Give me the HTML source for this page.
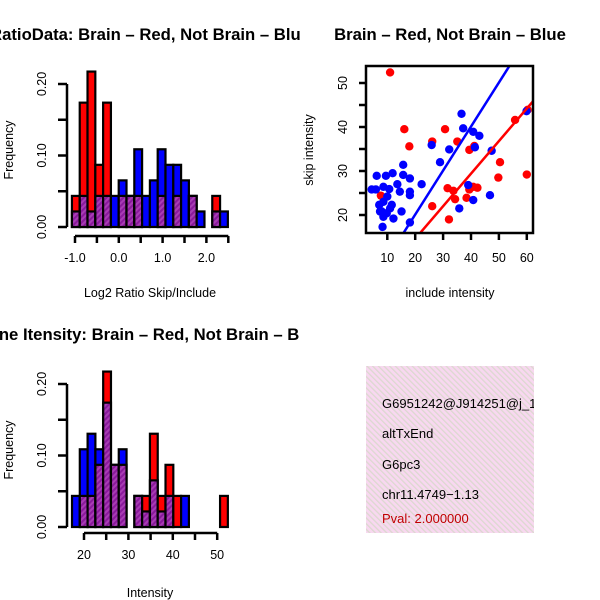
<!DOCTYPE html>
<html><head><meta charset="utf-8"><style>
html,body{margin:0;padding:0;background:#fff}
svg{display:block;font-family:"Liberation Sans",sans-serif}
</style></head><body>
<svg id="c" width="600" height="600" viewBox="0 0 600 600" xmlns="http://www.w3.org/2000/svg">
<defs>
<pattern id="hatch" patternUnits="userSpaceOnUse" width="4" height="4" patternTransform="rotate(45)">
<rect width="4" height="4" fill="#8a1a9c"/><rect width="2" height="4" fill="#a83cb4"/>
</pattern>
<pattern id="pink" patternUnits="userSpaceOnUse" width="4" height="4" patternTransform="rotate(-45)">
<rect width="4" height="4" fill="#f8d8f0"/><rect width="1.3" height="4" fill="#dcd8d0"/>
</pattern>
<clipPath id="cTL"><rect x="0" y="0" width="300" height="300"/></clipPath>
<clipPath id="cBL"><rect x="0" y="300" width="300" height="300"/></clipPath>
<clipPath id="cSC"><rect x="366" y="66" width="167" height="167"/></clipPath>
<clipPath id="cBox"><rect x="366" y="366" width="168" height="167"/></clipPath>
</defs>
<g id="tl" clip-path="url(#cTL)"></g>
<g id="bl" clip-path="url(#cBL)"></g>
<g id="sc"></g>
<g id="info">
<rect x="366" y="366" width="168" height="167" fill="url(#pink)"/>
<g clip-path="url(#cBox)" font-size="13">
<text x="382" y="408">G6951242@J914251@j_1</text>
<text x="382" y="438">altTxEnd</text>
<text x="382" y="469">G6pc3</text>
<text x="382" y="499">chr11.4749−1.13</text>
<text x="382" y="523" fill="#c00000">Pval: 2.000000</text>
</g></g>
</svg>
<script>
// ---- Ratio histogram data (frequency = count/46) ----
const ratioStart = -1.07;
const ratioBinWidth = 0.178;
const ratioRedCounts = [2,8,10,4,8,0,2,2,2,0,0,2,0,2,0,2,0,0,2,0];
const ratioBlueCounts = [1,2,1,2,2,2,3,2,5,2,3,5,4,4,3,2,1,0,1,1];
const ratioXTicks = [-1,-0.5,0,0.5,1,1.5,2,2.5];
const ratioXLabels = ["-1.0","","0.0","","1.0","","2.0",""];
// ---- Intensity histogram data ----
const intStart = 17.3;
const intBinWidth = 1.755;
const intRedCounts = [0,2,2,4,10,4,4,0,2,2,6,2,4,2,0,0,0,0,0,2];
const intBlueCounts = [2,5,6,5,8,4,5,0,2,1,3,1,2,0,2,0,0,0,0,0];
const intXTicks = [20,25,30,35,40,45,50];
const intXLabels = ["20","","30","","40","","50"];
const histTotal = 46;
const freqTicks = [0,0.05,0.1,0.15,0.2];
const freqLabels = ["0.00","","0.10","","0.20"];
// ---- Scatter data ----
const redInclude = [11,16.1,17.9,7.7,26.1,26.1,30.7,35.1,32.1,31.6,33.7,34.3,38.4,39.4,40.8,42.3,39.4,41.2,50.4,49.8,55.8,60,60.3];
const redSkip = [52.4,39.5,35.6,24.4,22,36.7,39.5,36.7,19,26.1,25.5,23.6,23.9,25.8,26.4,26.2,34.8,35.7,32,28.5,41.6,29.2,43.9];
const blueInclude = [4.4,6.2,5.9,8.6,10.7,9.5,11.9,13.6,14.5,15.7,15.7,18.1,18.1,18.1,7.1,8.6,10,8,8.6,9.8,11.6,12.2,15.1,8.3,18.1,22.3,25.9,28.9,32.2,36.6,37.2,40.8,43,41.4,39,35.8,40.8,46.8,47.4,59.9,7.4,11];
const blueSkip = [25.8,28.9,25.8,26.4,25.9,28.9,29.5,27,25.3,31.4,29.1,28.3,25.3,24.5,22.3,23,24.2,20.8,19.6,20.4,22.3,19.2,20.8,17.3,18.3,27,35.9,32,34.9,43,39.7,38.9,38,35.4,26.8,21.5,23.4,24.5,34.6,43.6,20.8,21.5];
const redFit = [-0.2, 0.74];
const blueFit = [0.1, 1.0];
const scXTicks = [10,20,30,40,50,60];
const scYTicks = [20,25,30,35,40,45,50];
const scYLabels = ["20","","30","","40","","50"];

const NS="http://www.w3.org/2000/svg";
function mk(parent,tag,attrs,text){const e=document.createElementNS(NS,tag);for(const k in attrs)e.setAttribute(k,attrs[k]);if(text!==undefined)e.textContent=text;parent.appendChild(e);return e;}

function hist(g, o){
  const sx=v=>o.px0+(v-o.xv0)*o.pxPer;
  const sy=v=>o.y0-v*o.yPer;
  for(let i=0;i<o.red.length;i++){
    const r=o.red[i]/histTotal,b=o.blue[i]/histTotal;
    const x1=sx(o.start+i*o.bw),x2=sx(o.start+(i+1)*o.bw);
    const mx=Math.max(r,b),mn=Math.min(r,b);
    if(mx>0){
      const e=mk(g,'rect',{x:x1,y:sy(mx),width:x2-x1,height:sy(0)-sy(mx),fill:r>=b?'#ff0000':'#0000ff',stroke:'#000','stroke-width':2.2});
      
      
    }
    if(mn>0){
      const e=mk(g,'rect',{x:x1,y:sy(mn),width:x2-x1,height:sy(0)-sy(mn),fill:'url(#hatch)',stroke:'#000','stroke-width':2.2});
      
      
    }
  }
  const ya=mk(g,'g',{});
  
  
  mk(ya,'line',{x1:o.yAxX,x2:o.yAxX,y1:sy(0),y2:sy(0.2),stroke:'#000','stroke-width':2.5});
  freqTicks.forEach((t,i)=>{
    mk(ya,'line',{x1:o.yAxX,x2:o.yAxX-9,y1:sy(t),y2:sy(t),stroke:'#000','stroke-width':2.5});
    if(freqLabels[i]){const tx=mk(ya,'text',{x:0,y:0,'font-size':12.5,'text-anchor':'middle',transform:`translate(${o.yAxX-21},${sy(t)}) rotate(-90)`},freqLabels[i]);
      
      }
  });
  const xa=mk(g,'g',{});
  
  
  const xt=o.xticks;
  mk(xa,'line',{x1:sx(xt[0]),x2:sx(xt[xt.length-1]),y1:o.xAxY,y2:o.xAxY,stroke:'#000','stroke-width':2.5});
  xt.forEach((t,i)=>{
    mk(xa,'line',{x1:sx(t),x2:sx(t),y1:o.xAxY,y2:o.xAxY+7,stroke:'#000','stroke-width':2.5});
    if(o.xlabels[i]){const tx=mk(xa,'text',{x:sx(t),y:o.xAxY+26,'font-size':12.5,'text-anchor':'middle'},o.xlabels[i]);
      
      }
  });
  const t1=mk(g,'text',{x:150,y:o.top+40,'font-size':16.7,'font-weight':'bold','text-anchor':'middle'},o.title);
  
  
  const t2=mk(g,'text',{x:150,y:o.top+297,'font-size':12.5,'text-anchor':'middle'},o.xlab);
  
  
  const t3=mk(g,'text',{x:0,y:0,'font-size':12.5,'text-anchor':'middle',transform:`translate(13,${o.top+150}) rotate(-90)`},'Frequency');
  
  
}
hist(document.getElementById('tl'),{top:0,px0:75,xv0:-1,pxPer:43.8,y0:227,yPer:715,start:ratioStart,bw:ratioBinWidth,red:ratioRedCounts,blue:ratioBlueCounts,yAxX:67,xAxY:236,xticks:ratioXTicks,xlabels:ratioXLabels,title:'RatioData: Brain – Red, Not Brain – Blue',xlab:'Log2 Ratio Skip/Include'});
hist(document.getElementById('bl'),{top:300,px0:84,xv0:20,pxPer:4.44,y0:527,yPer:715,start:intStart,bw:intBinWidth,red:intRedCounts,blue:intBlueCounts,yAxX:67,xAxY:533,xticks:intXTicks,xlabels:intXLabels,title:'Gene Itensity: Brain – Red, Not Brain – Blue',xlab:'Intensity'});

(function(){
  const g=document.getElementById('sc');
  const sx=v=>387.3+(v-10)*2.79;
  const sy=v=>215-(v-20)*4.4;
  const pts=mk(g,'g',{'clip-path':'url(#cSC)'});
  redInclude.forEach((x,i)=>{const c=mk(pts,'circle',{cx:sx(x),cy:sy(redSkip[i]),r:4.2,fill:'#ff0000'});
    
    });
  blueInclude.forEach((x,i)=>{const c=mk(pts,'circle',{cx:sx(x),cy:sy(blueSkip[i]),r:4.2,fill:'#0000ff'});
    
    });
  [[redFit,'#ff0000','fit-line-red'],[blueFit,'#0000ff','fit-line-blue']].forEach(([f,col,nm])=>{
    const l=mk(pts,'line',{x1:sx(0),y1:sy(f[0]),x2:sx(70),y2:sy(f[0]+f[1]*70),stroke:col,'stroke-width':2.5});
    
    
  });
  const box=mk(g,'rect',{x:366,y:66,width:167,height:167,fill:'none',stroke:'#000','stroke-width':2.5});
  
  
  scXTicks.forEach(t=>{
    mk(g,'line',{x1:sx(t),x2:sx(t),y1:233,y2:240,stroke:'#000','stroke-width':2.5});
    const tx=mk(g,'text',{x:sx(t),y:262,'font-size':12.5,'text-anchor':'middle'},String(t));
    
    
  });
  scYTicks.forEach((t,i)=>{
    mk(g,'line',{x1:366,x2:359,y1:sy(t),y2:sy(t),stroke:'#000','stroke-width':2.5});
    if(scYLabels[i]){const tx=mk(g,'text',{x:0,y:0,'font-size':12.5,'text-anchor':'middle',transform:`translate(347,${sy(t)}) rotate(-90)`},scYLabels[i]);
      
      }
  });
  const t1=mk(g,'text',{x:450,y:40,'font-size':16.7,'font-weight':'bold','text-anchor':'middle'},'Brain – Red, Not Brain – Blue');
  
  
  const t2=mk(g,'text',{x:450,y:297,'font-size':12.5,'text-anchor':'middle'},'include intensity');
  
  
  const t3=mk(g,'text',{x:0,y:0,'font-size':12.5,'text-anchor':'middle',transform:'translate(313,150) rotate(-90)'},'skip intensity');
  
  
})();
</script>
</body></html>
